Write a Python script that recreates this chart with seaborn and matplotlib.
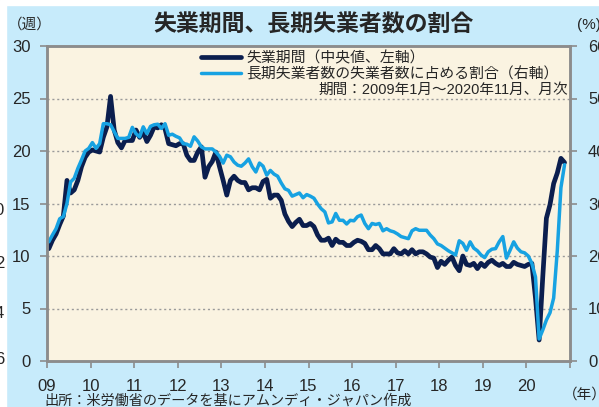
import numpy as np
import pandas as pd
import matplotlib
matplotlib.use("Agg")
import matplotlib.pyplot as plt
import seaborn as sns
from matplotlib.patches import Rectangle

# median duration of unemployment (weeks), monthly 2009-01 .. 2020-11
duration_weeks = [
    10.7, 11.5, 12.1, 13.0, 13.8, 17.2, 16.0, 16.3, 17.2, 18.5, 19.4, 19.9,
    20.1, 20.0, 19.9, 21.3, 22.3, 25.2, 22.0, 20.8, 20.3, 21.0, 21.0, 21.0,
    22.0, 21.3, 21.8, 20.9, 21.5, 22.3, 22.2, 22.5, 22.1, 20.7, 20.6, 20.5,
    20.7, 20.7, 19.6, 19.1, 19.1, 19.9, 20.4, 17.5, 18.5, 19.0, 19.9, 18.5,
    17.2, 15.8, 17.2, 17.6, 17.2, 17.0, 17.0, 16.3, 16.5, 16.5, 16.3, 17.1,
    17.3, 15.5, 15.8, 15.8, 15.3, 14.0, 13.3, 12.8, 13.2, 13.5, 12.9, 12.9,
    13.1, 12.8, 12.0, 11.5, 11.5, 11.7, 11.0, 11.6, 11.3, 11.3, 11.0, 11.0,
    11.3, 11.5, 11.4, 11.2, 10.6, 10.6, 11.0, 10.7, 10.2, 10.2, 10.2, 10.7,
    10.3, 10.2, 10.5, 10.2, 10.6, 10.2, 10.4, 10.4, 10.2, 9.9, 9.8, 8.9,
    9.5, 9.2, 9.6, 9.9, 9.1, 8.6, 10.0, 9.2, 9.1, 9.3, 8.8, 9.3,
    9.0, 9.4, 9.6, 9.3, 9.1, 9.3, 9.0, 9.0, 9.4, 9.2, 9.1, 9.0,
    9.2, 9.3, 6.0, 2.0, 8.0, 13.6, 14.9, 16.9, 17.9, 19.3, 18.9,
]

# share of long-term unemployed in all unemployed (%)
longterm_share = [
    22.7, 24.0, 25.2, 27.1, 27.5, 30.0, 34.1, 34.8, 36.7, 38.3, 40.0, 40.5,
    41.6, 40.5, 41.4, 45.2, 45.2, 45.0, 43.7, 42.4, 42.4, 42.4, 42.6, 44.5,
    43.3, 42.7, 44.6, 43.3, 44.7, 45.0, 45.1, 44.3, 45.2, 43.0, 43.2, 42.8,
    42.5, 41.4, 41.3, 40.9, 42.7, 41.9, 40.8, 40.4, 40.4, 40.4, 39.8, 39.0,
    37.7, 39.2, 38.9, 37.9, 37.3, 37.1, 37.7, 38.5, 37.0, 36.0, 37.7, 37.1,
    35.4, 36.3, 35.6, 35.2, 33.9, 32.8, 32.5, 31.4, 31.7, 32.0, 31.1, 31.7,
    31.4, 31.0, 29.9, 29.0, 28.4, 26.3, 26.5, 28.1, 26.8, 26.8, 26.1, 26.8,
    26.7, 27.5, 27.8, 26.2, 25.2, 26.2, 26.0, 26.2, 24.8, 25.2, 24.8, 24.6,
    24.2, 23.7, 23.5, 23.3, 24.8, 25.2, 24.9, 24.9, 24.9, 24.0, 23.3, 22.3,
    22.0, 21.5, 21.0, 20.6, 20.2, 22.9, 22.4, 21.1, 22.7, 21.5, 21.0, 20.2,
    19.7, 20.8, 21.3, 21.4, 22.7, 23.7, 19.6, 21.1, 22.7, 21.5, 20.8, 20.6,
    20.0, 18.6, 16.0, 4.2, 5.9, 7.8, 9.2, 12.0, 21.0, 33.0, 37.4,
]

year_ticks = list(range(2009, 2022))
year_labels = ["09", "10", "11", "12", "13", "14", "15", "16", "17", "18", "19", "20", ""]

label_dur = "失業期間（中央値、左軸）"
label_share = "長期失業者数の失業者数に占める割合（右軸）"

months = pd.date_range("2009-01-01", periods=len(duration_weeks), freq="MS")
df = pd.DataFrame({
    "x": months.year + (months.month - 0.5) / 12,
    "weeks": duration_weeks,
    "share": longterm_share,
})

sns.set_theme(style="ticks")
plt.rcParams["font.family"] = ["Liberation Sans", "Noto Sans CJK JP"]

W, H = 599, 407
dark = "#0B1E4E"
light = "#17A2E2"
edge = "#8C8C8C"

fig = plt.figure(figsize=(W / 100, H / 100), dpi=100, facecolor="#C7EBFB")
# white strips at the crop edges
fig.patches.append(Rectangle((0, 0), 6 / W, 1, transform=fig.transFigure, color="white", zorder=0))
fig.patches.append(Rectangle((0, 1 - 5 / H), 1, 5 / H, transform=fig.transFigure, color="white", zorder=0))

ax = fig.add_axes([47 / W, 46 / H, 523 / W, 315 / H])
ax.set_facecolor("#FAF3E1")

sns.lineplot(data=df, x="x", y="weeks", ax=ax, color=dark, lw=3.4,
             solid_joinstyle="round", solid_capstyle="round", label=label_dur)
ax.get_legend().remove()
ax2 = ax.twinx()
sns.lineplot(data=df, x="x", y="share", ax=ax2, color=light, lw=2.5,
             solid_joinstyle="round", solid_capstyle="round", label=label_share)
ax2.get_legend().remove()

ax.set_xlim(2009, 2021)
ax.set_ylim(0, 30)
ax2.set_ylim(0, 60)
ax.set_xticks(year_ticks)
ax.set_xticklabels(year_labels)
ax.set_yticks(range(0, 31, 5))
ax2.set_yticks(range(0, 61, 10))
ax.set_xlabel("")
ax.set_ylabel("")
ax2.set_ylabel("")

for y in range(5, 30, 5):
    ax.axhline(y, color="#9A9A9A", lw=1.0, ls=(0, (1.5, 2)), zorder=0.5)

for a in (ax, ax2):
    for s in a.spines.values():
        s.set_visible(True)
        s.set_color(edge)
        s.set_linewidth(1.8)
ax.tick_params(axis="y", direction="out", length=5, width=1.2, color=edge, labelsize=12, pad=7)
ax.tick_params(axis="x", direction="out", length=5, width=1.2, color=edge, labelsize=12, pad=8)
ax2.tick_params(axis="y", direction="out", length=5, width=1.2, color=edge, labelsize=12, pad=8)

handles = [ax.get_lines()[0], ax2.get_lines()[0]]
ax2.legend(handles, [label_dur, label_share], loc="upper left",
           bbox_to_anchor=(201 / W, 1 - 51 / H), bbox_transform=fig.transFigure,
           frameon=False, fontsize=10.7, handlelength=2.7, handletextpad=0.35,
           labelspacing=0.12, borderpad=0, borderaxespad=0)

fig.text(568 / W, 1 - 90 / H, "期間：2009年1月～2020年11月、月次", ha="right", va="center", fontsize=10.5)
fig.text(313 / W, 1 - 25 / H, "失業期間、長期失業者数の割合", ha="center", va="center",
         fontsize=16.5, fontweight="bold")
fig.text(30 / W, 1 - 25 / H, "（週）", ha="center", va="center", fontsize=10.5)
fig.text(577 / W, 1 - 25 / H, "(%)", ha="left", va="center", fontsize=11)
fig.text(585 / W, 1 - 395 / H, "（年）", ha="center", va="center", fontsize=10.5)
fig.text(44 / W, 1 - 401 / H, "出所：米労働省のデータを基にアムンディ・ジャパン作成",
         ha="left", va="center", fontsize=10.2)

# clipped tick labels of the neighbouring chart on the left edge
for yy, t in [(210, "0"), (263, "2"), (314, "4"), (360, "6")]:
    fig.text(4 / W, 1 - yy / H, t, ha="right", va="center", fontsize=12)

fig.savefig("out.png", dpi=100, facecolor=fig.get_facecolor())
